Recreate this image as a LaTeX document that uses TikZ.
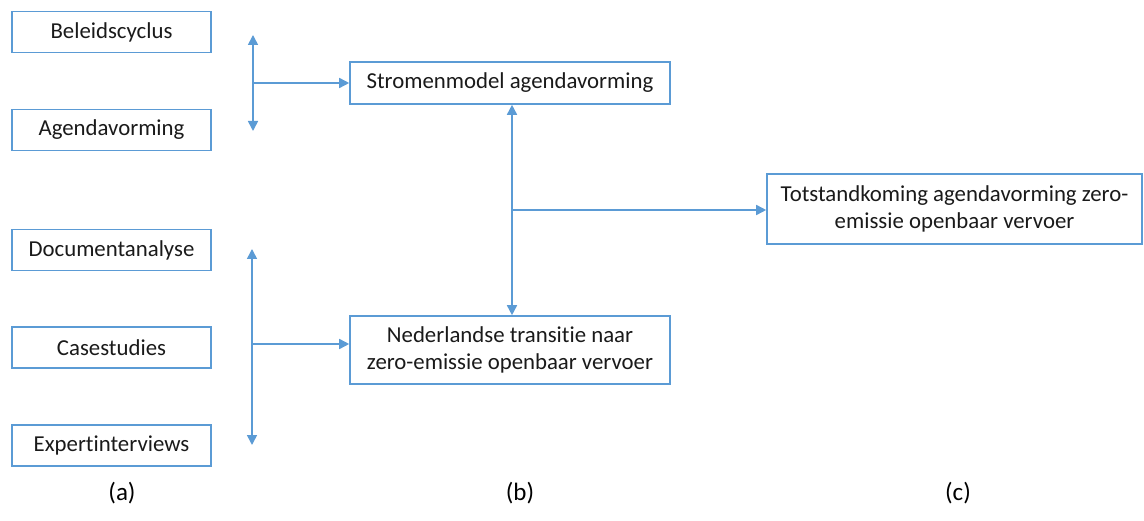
\documentclass[tikz,border=0pt]{standalone}
\usepackage{fontspec}
\setmainfont{Carlito}[Ligatures=NoCommon]
\usetikzlibrary{arrows.meta}
\definecolor{boxblue}{HTML}{5B9BD5}
\definecolor{txt}{HTML}{1A1A1A}
\begin{document}
\begin{tikzpicture}[x=1pt,y=-1pt,
  box/.style={draw=boxblue,line width=1.6pt,fill=white,inner sep=0pt,align=center,
    text=txt,font=\fontsize{22.8}{27.5}\selectfont},
  smallbox/.style={box,minimum width=199pt,minimum height=41pt},
  conn/.style={draw=boxblue,line width=1.6pt,-{Triangle[length=10pt,width=10pt]}},
  bconn/.style={draw=boxblue,line width=1.6pt,{Triangle[length=10pt,width=10pt]}-{Triangle[length=10pt,width=10pt]}},
  lbl/.style={font=\fontsize{25}{30}\selectfont,text=black}]
\useasboundingbox (0,0) rectangle (1144,521);
\fill[white] (0,0) rectangle (1144,521);
% left boxes
\node[smallbox] (bel) at (111.5,32) {Beleidscyclus};
\node[smallbox] (age) at (111.5,130) {Agendavorming};
\node[smallbox] (doc) at (111.5,250) {Documentanalyse};
\node[smallbox] (cas) at (111.5,347.5) {Casestudies};
\node[smallbox] (exp) at (111.5,445.5) {Expertinterviews};
% middle boxes
\node[box,minimum width=320pt,minimum height=42pt] (str) at (510,83) {Stromenmodel agendavorming};
\node[box,minimum width=320pt,minimum height=68pt] (ned) at (510,350) {Nederlandse transitie naar\\zero-emissie openbaar vervoer};
% right box
\node[box,minimum width=375pt,minimum height=70pt] (tot) at (954.5,209) {Totstandkoming agendavorming zero-\\emissie openbaar vervoer};
% top-left bracket arrow
\coordinate (t1) at (253,35);
\coordinate (t2) at (253,131);
\coordinate (tj) at (253,83);
\draw[bconn] (t1) -- (t2);
\draw[conn] (tj) -- (str.west);
% bottom-left bracket arrow
\coordinate (b1) at (252,249);
\coordinate (b2) at (252,445);
\coordinate (bj) at (252,344);
\draw[bconn] (b1) -- (b2);
\draw[conn] (bj) -- (ned.west |- bj);
% middle vertical
\draw[bconn] (str.south -| 512,0) -- (ned.north -| 512,0);
\coordinate (mj) at (512,210);
\draw[conn] (mj) -- (tot.west |- mj);
% labels
\node[lbl] (la) at (122,493) {(a)};
\node[lbl] (lb) at (520,493) {(b)};
\node[lbl] (lc) at (958,493) {(c)};
\end{tikzpicture}
\end{document}
